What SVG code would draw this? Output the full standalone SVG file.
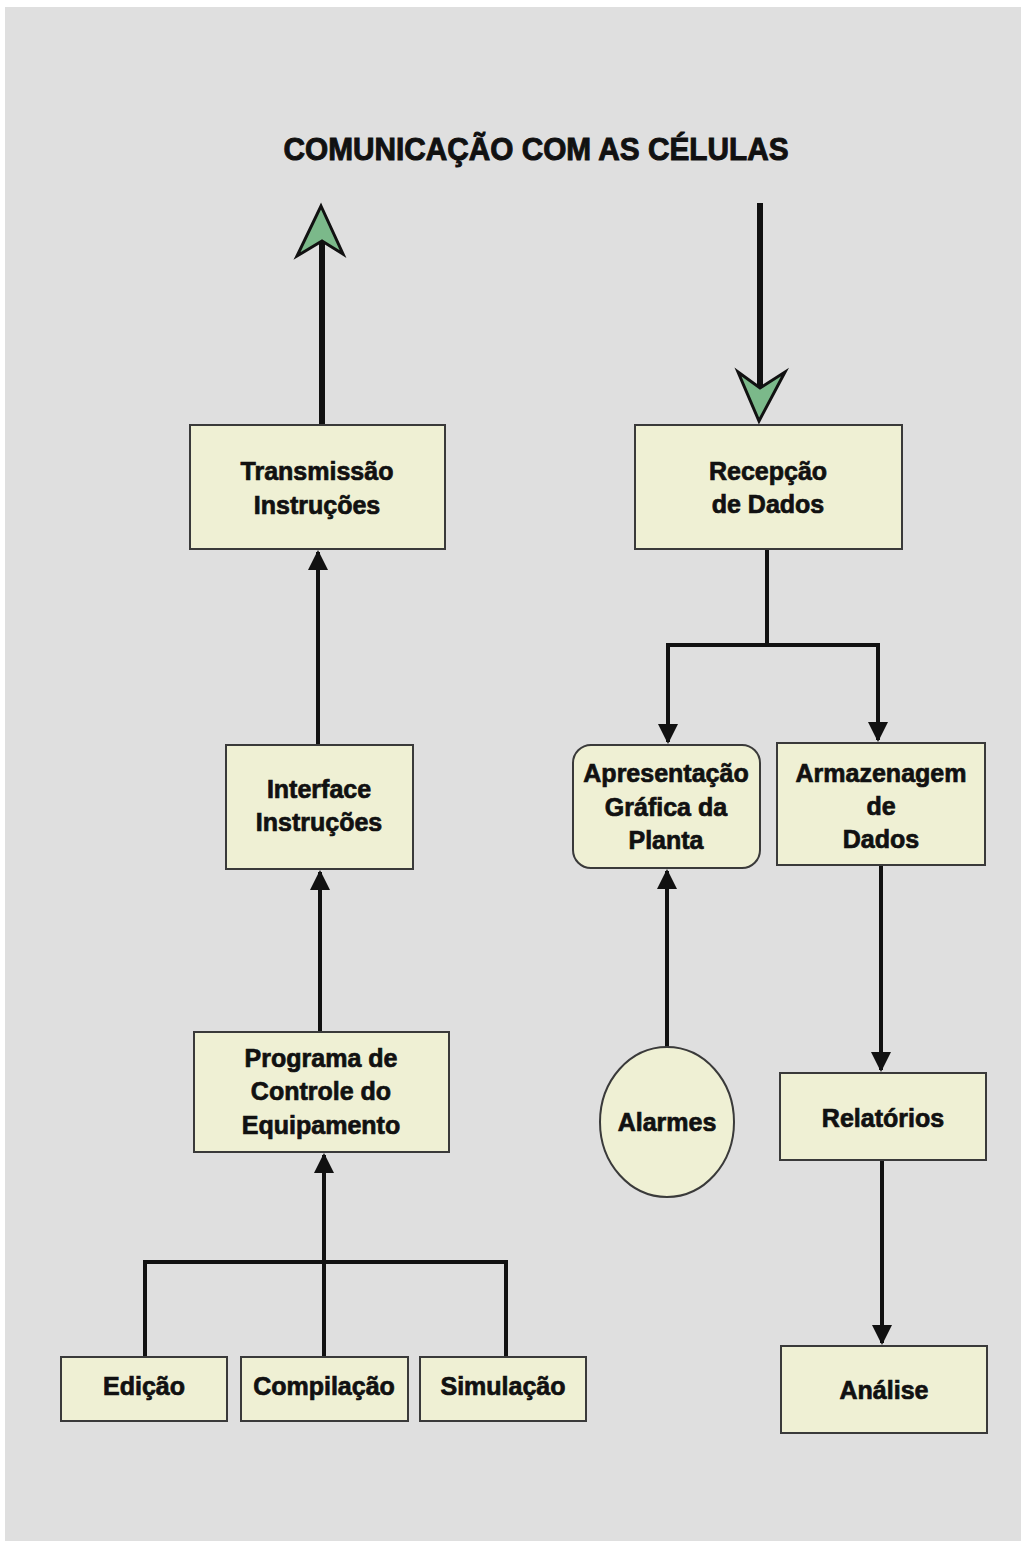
<svg xmlns="http://www.w3.org/2000/svg" width="1025" height="1546" viewBox="0 0 1025 1546">
<defs>
<style>
.box{fill:#eff0d4;stroke:#3a3a3a;stroke-width:2}
.t{font-family:"Liberation Sans",Arial,sans-serif;font-weight:bold;font-size:25px;fill:#111;stroke:#111;stroke-width:0.7;text-anchor:middle}
.ln{fill:none;stroke:#111;stroke-width:4}
.thick{fill:none;stroke:#111;stroke-width:6}
.green{fill:#7bb98a;stroke:#111;stroke-width:3;stroke-linejoin:miter}
</style>
<marker id="ah" viewBox="0 0 10 10" refX="9" refY="5" markerWidth="5" markerHeight="5" orient="auto" markerUnits="strokeWidth">
<path d="M0,0 L10,5 L0,10 z" fill="#111"/>
</marker>
</defs>
<rect x="0" y="0" width="1025" height="1546" fill="#ffffff"/>
<rect x="5" y="7" width="1016" height="1534" fill="#dfdfdf"/>
<text x="536" y="160" font-family="'Liberation Sans',Arial,sans-serif" font-weight="bold" font-size="32" text-anchor="middle" fill="#111" stroke="#111" stroke-width="1" textLength="505" lengthAdjust="spacingAndGlyphs">COMUNICAÇÃO COM AS CÉLULAS</text>

<g id="connectors">
<line class="thick" x1="322" y1="425" x2="322" y2="240"/>
<path class="green" d="M321,206 L343,254 L322,241 L297,256 Z"/>
<line class="thick" x1="760" y1="203" x2="760" y2="390"/>
<path class="green" d="M759,421 L785,372 L760,388 L738,372 Z"/>
<line class="ln" x1="318" y1="745" x2="318" y2="552" marker-end="url(#ah)"/>
<line class="ln" x1="320" y1="1032" x2="320" y2="872" marker-end="url(#ah)"/>
<polyline class="ln" points="145,1357 145,1262 506,1262 506,1357"/>
<line class="ln" x1="324" y1="1357" x2="324" y2="1155" marker-end="url(#ah)"/>
<polyline class="ln" points="767,549 767,645 668,645 668,742" marker-end="url(#ah)"/>
<polyline class="ln" points="767,645 878,645 878,740" marker-end="url(#ah)"/>
<line class="ln" x1="667" y1="1047" x2="667" y2="871" marker-end="url(#ah)"/>
<line class="ln" x1="881" y1="865" x2="881" y2="1070" marker-end="url(#ah)"/>
<line class="ln" x1="882" y1="1160" x2="882" y2="1343" marker-end="url(#ah)"/>
</g>

<g id="transmissao">
<rect class="box" x="190" y="425" width="255" height="124"/>
<text class="t" x="317" y="480">Transmissão</text>
<text class="t" x="317" y="514">Instruções</text>
</g>
<g id="recepcao">
<rect class="box" x="635" y="425" width="267" height="124"/>
<text class="t" x="768" y="480">Recepção</text>
<text class="t" x="768" y="513">de Dados</text>
</g>
<g id="interface">
<rect class="box" x="226" y="745" width="187" height="124"/>
<text class="t" x="319" y="798">Interface</text>
<text class="t" x="319" y="831">Instruções</text>
</g>
<g id="programa">
<rect class="box" x="194" y="1032" width="255" height="120"/>
<text class="t" x="321" y="1067">Programa de</text>
<text class="t" x="321" y="1100">Controle do</text>
<text class="t" x="321" y="1134">Equipamento</text>
</g>
<g id="edicao">
<rect class="box" x="61" y="1357" width="166" height="64"/>
<text class="t" x="144" y="1395">Edição</text>
</g>
<g id="compilacao">
<rect class="box" x="241" y="1357" width="167" height="64"/>
<text class="t" x="324" y="1395">Compilação</text>
</g>
<g id="simulacao">
<rect class="box" x="420" y="1357" width="166" height="64"/>
<text class="t" x="503" y="1395">Simulação</text>
</g>
<g id="apresentacao">
<rect class="box" x="573" y="745" width="187" height="123" rx="18" ry="18"/>
<text class="t" x="666" y="782">Apresentação</text>
<text class="t" x="666" y="816">Gráfica da</text>
<text class="t" x="666" y="849">Planta</text>
</g>
<g id="armazenagem">
<rect class="box" x="777" y="743" width="208" height="122"/>
<text class="t" x="881" y="782">Armazenagem</text>
<text class="t" x="881" y="815">de</text>
<text class="t" x="881" y="848">Dados</text>
</g>
<g id="alarmes">
<ellipse class="box" cx="667" cy="1122" rx="67" ry="75"/>
<text class="t" x="667" y="1131">Alarmes</text>
</g>
<g id="relatorios">
<rect class="box" x="780" y="1073" width="206" height="87"/>
<text class="t" x="883" y="1127">Relatórios</text>
</g>
<g id="analise">
<rect class="box" x="781" y="1346" width="206" height="87"/>
<text class="t" x="884" y="1399">Análise</text>
</g>
</svg>
